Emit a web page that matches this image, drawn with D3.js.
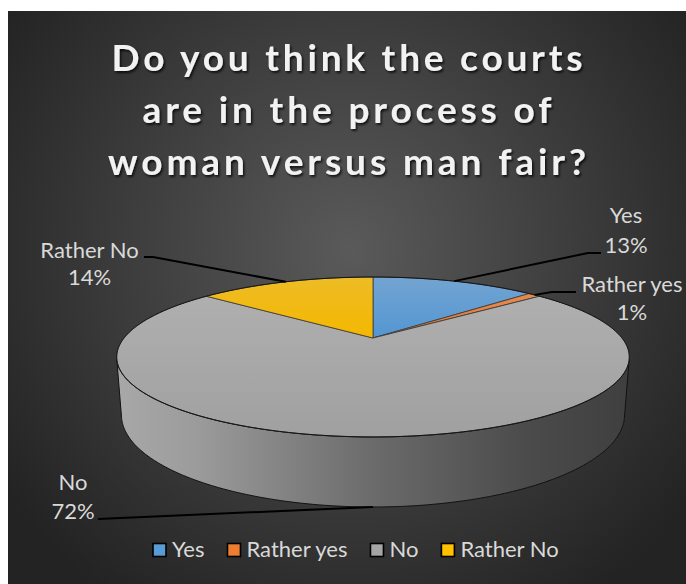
<!DOCTYPE html>
<html><head><meta charset="utf-8">
<script src="https://cdn.jsdelivr.net/npm/d3@7"></script>
<style>html,body{margin:0;padding:0;background:#fff;} svg{display:block;}</style>
</head><body>
<svg id="chart" width="686" height="584"></svg>
<script>
// ---- data ----
const categories = ["Yes", "Rather yes", "No", "Rather No"];
const values = [13, 1, 72, 14];
const titleLines = ["Do you think the courts", "are in the process of", "woman versus man fair?"];
const colors = ["#5B9BD5", "#ED7D31", "#A5A5A5", "#FFC000"];

// ---- layout ----
const W = 686, H = 584;
const titleBase = [71, 123, 175], titleWidths = [471, 409, 478], titleCx = 347;
const labelPos = [[626, 223], [632, 292], [73, 490], [89.5, 258]];
const labelGap = [30, 28, 29, 27];
const leaderBends = [[[588, 253], [601, 253]], [[552, 292], [576, 292]], [[98, 519]], [[153, 257], [144, 257]]];
const legendY = 557, legendX0 = 152;

const svg = d3.select("#chart");
const defs = svg.append("defs");

const rg = defs.append("radialGradient").attr("id", "bg").attr("gradientUnits", "userSpaceOnUse")
  .attr("cx", 350).attr("cy", 250).attr("r", 420);
rg.append("stop").attr("offset", 0).attr("stop-color", "#5a5a5a");
rg.append("stop").attr("offset", 1).attr("stop-color", "#232323");
svg.append("rect").attr("x", 8).attr("y", 11).attr("width", W - 8).attr("height", H - 11).attr("fill", "url(#bg)");

const f = defs.append("filter").attr("id", "tshadow").attr("x", "-10%").attr("y", "-30%").attr("width", "120%").attr("height", "160%");
f.append("feDropShadow").attr("dx", 1.5).attr("dy", 2).attr("stdDeviation", 1.2).attr("flood-color", "#000").attr("flood-opacity", 0.75);

const wg = defs.append("linearGradient").attr("id", "wall").attr("gradientUnits", "userSpaceOnUse")
  .attr("x1", 117).attr("x2", 629).attr("y1", 0).attr("y2", 0);
[[0, "#a8a8a8"], [0.15, "#9c9c9c"], [0.5, "#6b6b6b"], [0.8, "#4b4b4b"], [1, "#3f3f3f"]]
  .forEach(([o, c]) => wg.append("stop").attr("offset", o).attr("stop-color", c));

// top gradients (slightly lighter at the back, as in the reference)
colors.forEach((c, i) => {
  const g = defs.append("linearGradient").attr("id", "top" + i).attr("x1", 0).attr("x2", 0).attr("y1", 0).attr("y2", 1);
  const base = d3.hsl(c);
  const top = d3.hsl(base); top.l = Math.min(1, base.l + 0.04); top.s = base.s * 0.85;
  const bot = d3.hsl(base); bot.l = base.l - 0.02;
  g.append("stop").attr("offset", 0).attr("stop-color", top.formatHex());
  g.append("stop").attr("offset", 1).attr("stop-color", bot.formatHex());
});

// ---- title ----
svg.append("g").attr("filter", "url(#tshadow)")
  .selectAll("text").data(titleLines).join("text")
  .attr("x", titleCx).attr("y", (d, i) => titleBase[i])
  .attr("text-anchor", "middle")
  .attr("font-family", "Lato, 'Open Sans', sans-serif").attr("font-weight", "bold")
  .attr("font-size", 37).attr("fill", "#f2f2f2")
  .attr("textLength", (d, i) => titleWidths[i]).attr("lengthAdjust", "spacing")
  .text(d => d);

// ---- 3D pie projection ----
const cx = 373, cy = 338, S = 249, kk = 0.249, sinE = 0.303, cosE = Math.sqrt(1 - sinE * sinE), depth = 0.238;
function proj(phi, h, r = 1) {
  const X = r * Math.sin(phi), Z = r * Math.cos(phi);
  const u = Z * sinE + h * cosE;
  const w = 1 + kk * (Z * cosE - h * sinE);
  return [cx + S * X / w, cy - S * u / w];
}
function arcPts(a0, a1, h) {
  const n = Math.max(2, Math.ceil(Math.abs(a1 - a0) / 0.01));
  return d3.range(n + 1).map(i => proj(a0 + (a1 - a0) * i / n, h));
}
const line = d3.line();
const data = categories.map((c, i) => ({ cat: c, value: values[i], i }));
const total = d3.sum(values);
const arcs = d3.pie().sort(null).value(d => d.value)(data);

const phiS = Math.acos(-kk / cosE);
const gPie = svg.append("g");
arcs.forEach(a => {
  const a0 = Math.max(a.startAngle, phiS), a1 = Math.min(a.endAngle, 2 * Math.PI - phiS);
  if (a1 <= a0) return;
  const pts = arcPts(a0, a1, 0).concat(arcPts(a1, a0, -depth));
  gPie.append("path").attr("d", line(pts) + "Z")
    .attr("fill", a.data.i === 2 ? "url(#wall)" : d3.color(colors[a.data.i]).darker(0.6))
    .attr("stroke", "#111").attr("stroke-width", 1).attr("stroke-linejoin", "round");
});
arcs.forEach(a => {
  const pts = [proj(0, 0, 0)].concat(arcPts(a.startAngle, a.endAngle, 0));
  gPie.append("path").attr("d", line(pts) + "Z")
    .attr("fill", `url(#top${a.data.i})`)
    .attr("stroke", "#3a3a3a").attr("stroke-width", 0.8).attr("stroke-linejoin", "round");
});
gPie.append("path").attr("d", line(arcPts(0, 2 * Math.PI, 0)) + "Z")
  .attr("fill", "none").attr("stroke", "#111").attr("stroke-width", 1);

// ---- leader lines and labels ----
const labelFont = "Lato, 'Open Sans', sans-serif";
const probe = svg.append("text").attr("font-family", labelFont).attr("font-size", 20).text("Rather yes");
const pw = probe.node().getComputedTextLength();
probe.remove();
const fs = 20 * 101 / pw;

arcs.forEach(a => {
  const mid = (a.startAngle + a.endAngle) / 2;
  const front = Math.cos(mid) < Math.cos(phiS);
  const start = proj(mid, front ? -depth : 0);
  const pts = [start].concat(leaderBends[a.data.i]);
  svg.append("path").attr("d", line(pts)).attr("fill", "none")
    .attr("stroke", "#000").attr("stroke-width", 2);
  const [lx, ly] = labelPos[a.data.i];
  const t = svg.append("text").attr("text-anchor", "middle")
    .attr("font-family", labelFont).attr("font-size", fs).attr("fill", "#d9d9d9");
  t.append("tspan").attr("x", lx).attr("y", ly).text(a.data.cat);
  t.append("tspan").attr("x", lx).attr("y", ly + labelGap[a.data.i])
    .text(Math.round(a.data.value / total * 100) + "%");
});

// ---- legend ----
let lx = legendX0;
const gL = svg.append("g");
categories.forEach((c, i) => {
  gL.append("rect").attr("x", lx + 1).attr("y", legendY - 13.5).attr("width", 13).attr("height", 13)
    .attr("fill", colors[i]).attr("stroke", "#000").attr("stroke-width", 1.6);
  const t = gL.append("text").attr("x", lx + 20).attr("y", legendY)
    .attr("font-family", labelFont).attr("font-size", fs).attr("fill", "#d9d9d9").text(c);
  lx += 20 + t.node().getComputedTextLength() + 22;
});
</script>
</body></html>
